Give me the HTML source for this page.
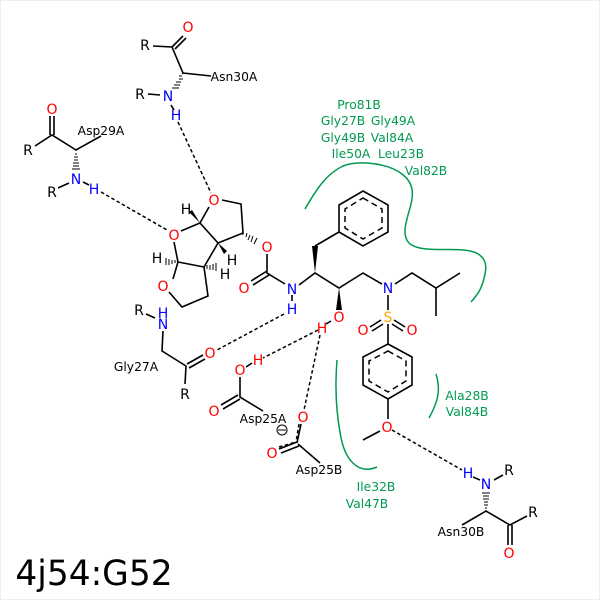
<!DOCTYPE html>
<html><head><meta charset="utf-8"><style>
html,body{margin:0;padding:0;background:#fff}
svg{display:block}
text{font-family:"DejaVu Sans",sans-serif;text-anchor:middle}
.a{font-size:14px}
.l{font-size:12.3px;fill:#000}
.g{font-size:12.3px;fill:#009a50}
.r{fill:#f00}.b{fill:#00f}.k{fill:#000}
</style></head><body>
<svg width="600" height="600" viewBox="0 0 600 600" xmlns="http://www.w3.org/2000/svg">
<rect x="0.5" y="0.5" width="599" height="599" fill="#fff" stroke="#eee"/>
<g fill="none" stroke="#009a50" stroke-width="1.5">
<path d="M305 209C316 190 326 174 343 166C358 160 388 163 402 174C414 183 414 194 410 208C406 222 401 236 410 244C424 254 456 246 474 252C490 258 486 272 483 282C480 292 476 296 471 302"/>
<path d="M337 360C335 385 336 410 340 432C344 460 358 475 377 467"/>
<path d="M436 374C441 390 438 402 429 418"/>
</g>
<g fill="none" stroke="#000" stroke-width="1.6" stroke-linecap="butt">
<!-- Asn30A -->
<path d="M183 36L172 47M186 38L175 49M153 46L172 47L183 73L211 76M148 94L160 95M171 105L174 110"/>
<!-- Asp29A -->
<path d="M50 116V135M54 116V135M35 146L52 135L76 150L101 136M58 188L69 183M83 182L89 185"/>
<!-- bicyclic -->
<path d="M209 207L200 223L181 231M174 242L178 262L204 267L218 243L200 223M218 243L243 233L241 204L222 200M173 279L178 262M169 292L182 307L208 296L204 267"/>
<path d="M267 254L267 273L285 284M267 271L251 281M269 275L253 285"/>
<!-- chain -->
<path d="M299 285L315 273L339 288L363 273L382 284M395 284L412 273L436 288L460 273M436 288V316"/>
<!-- phenyl -->
<path d="M363 191L388 205V232L363 246L339 232V205ZM339 232L315 246"/>
<!-- sulfonyl -->
<path d="M388 295V310M388 324V344M370 327L381 320M372 331L383 324M405 327L394 320M403 331L392 324"/>
<!-- ring 2 -->
<path d="M388 344L412 357V385L388 399L363 385V357ZM388 399V419M380 431L363 440"/>
<!-- Asn30B -->
<path d="M473 477L480 480M494 480L503 475M462 525L486 511L510 525L527 516M508 525V545M512 525V545"/>
<!-- Gly27A -->
<path d="M146 314L155 318M163 331L162 351L186 366L185 384M187 364L203 355M189 368L205 359"/>
<!-- Asp25A -->
<path d="M240 377V397L263 411M238 395L221 405M240 399L223 409M246 367L252 363"/>
<!-- Asp25B -->
<path d="M298 444L320 463M297 442L279 449M299 446L281 453M301 424L297 443"/>
<path d="M292 295V301M331 321L326 324"/>
</g>
<g fill="none" stroke="#000" stroke-width="1.5" stroke-dasharray="6 4">
<path d="M363 198L382 209V228L363 239L345 228V209Z"/>
<path d="M388 351L406 361V381L388 392L369 381V361Z"/>
</g>
<g fill="none" stroke="#000" stroke-width="1.5" stroke-dasharray="3.5 2.5">
<path d="M178 122L211 193M101 192L167 230M284 314L217 350M318 330L263 358M320 335L304 410M392 430L462 470M299 424L296 442M279 447L296 442"/>
</g>
<!-- wedges -->
<g fill="#000">
<path d="M315 273L312 246H318ZM339 288L336 310H342ZM200 223L189 212L192 210ZM218 243L227 251L224 254Z"/>
</g>
<g stroke="#000" stroke-width="1" fill="none">
<path d="M183 73l-1 1M182 76h-3M179 79h4M176 82h5M174 85h6M172 88h7"/>
<path d="M76 150v1M75 154h2M74 157h4M74 160h4M73 163h6M73 166h6M72 169h8"/>
<path d="M243 233v2M247 233l-1 4M250 235l-2 5M253 236l-2 6M257 238l-3 6"/>
<path d="M178 262l-1-1M175 260v3M172 260v4M169 259v6M166 258v7"/>
<path d="M204 267l1-1M207 265v4M210 265v5M213 264v6M216 263v8"/>
<path d="M486 511v-1M485 508h2M484 505h4M484 502h4M483 499h6M483 496h6M482 493h8"/>
</g>
<!-- atom labels -->
<g class="a">
<text class="k" x="145" y="50">R</text><text class="r" x="188" y="32">O</text><text class="k" x="140" y="99">R</text><text class="b" x="168" y="101">N</text><text class="b" x="176" y="120">H</text>
<text class="r" x="52" y="114">O</text><text class="k" x="28" y="155">R</text><text class="b" x="76" y="184">N</text><text class="k" x="52" y="197">R</text><text class="b" x="94" y="194">H</text>
<text class="r" x="214" y="205">O</text><text class="r" x="174" y="240">O</text><text class="r" x="163" y="291">O</text><text class="r" x="267" y="252">O</text><text class="r" x="244" y="293">O</text>
<text class="k" x="186" y="214">H</text><text class="k" x="232" y="265">H</text><text class="k" x="225" y="279">H</text><text class="k" x="157" y="263">H</text>
<text class="b" x="292" y="294">N</text><text class="b" x="292" y="314">H</text><text class="r" x="339" y="322">O</text><text class="r" x="322" y="333">H</text><text class="b" x="388" y="293">N</text>
<text x="388" y="322" fill="#ffa500">S</text><text class="r" x="363" y="335">O</text><text class="r" x="412" y="335">O</text><text class="r" x="387" y="432">O</text>
<text class="b" x="468" y="478">H</text><text class="b" x="486" y="489">N</text><text class="k" x="509" y="475">R</text><text class="k" x="533" y="517">R</text><text class="r" x="509" y="558">O</text>
<text class="k" x="139" y="315">R</text><text class="b" x="163" y="318">H</text><text class="b" x="163" y="329">N</text><text class="r" x="210" y="358">O</text><text class="k" x="185" y="399">R</text>
<text class="r" x="240" y="375">O</text><text class="r" x="258" y="365">H</text><text class="r" x="214" y="416">O</text><text class="r" x="303" y="422">O</text><text class="r" x="272" y="458">O</text>
</g>
<circle cx="282" cy="430" r="5" fill="none" stroke="#000" stroke-width="1"/><path d="M278 430H286" stroke="#000" stroke-width="1"/>
<!-- residue labels -->
<text class="l" x="234" y="81">Asn30A</text><text class="l" x="101" y="135">Asp29A</text><text class="l" x="136" y="371">Gly27A</text><text class="l" x="263" y="423">Asp25A</text><text class="l" x="319" y="474">Asp25B</text><text class="l" x="461" y="536">Asn30B</text>
<text class="g" x="359" y="109">Pro81B</text><text class="g" x="343" y="125">Gly27B</text><text class="g" x="393" y="125">Gly49A</text><text class="g" x="343" y="142">Gly49B</text><text class="g" x="392" y="142">Val84A</text><text class="g" x="351" y="158">Ile50A</text><text class="g" x="401" y="158">Leu23B</text><text class="g" x="426" y="175">Val82B</text>
<text class="g" x="467" y="400">Ala28B</text><text class="g" x="467" y="416">Val84B</text><text class="g" x="376" y="491">Ile32B</text><text class="g" x="367" y="508">Val47B</text>
<text x="94" y="585" style="font-size:34.4px" fill="#000">4j54:G52</text>
</svg>
</body></html>
